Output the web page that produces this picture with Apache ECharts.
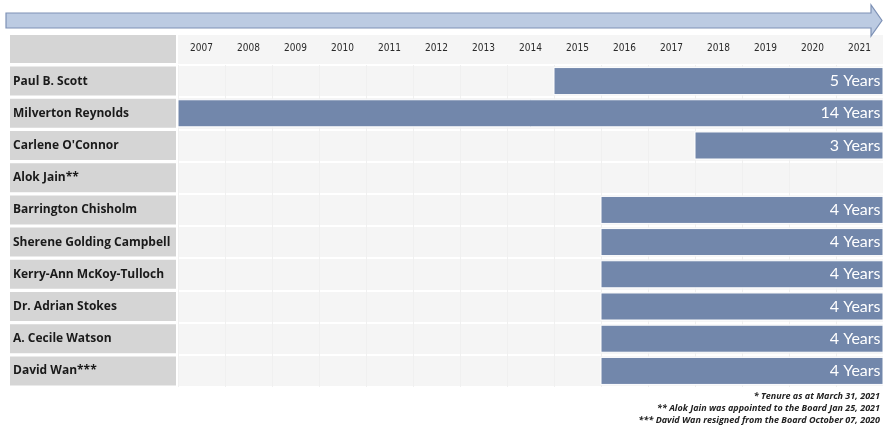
<!DOCTYPE html>
<html>
<head>
<meta charset="utf-8">
<script src="https://cdn.jsdelivr.net/npm/echarts@6/dist/echarts.min.js"></script>
<style>
  html, body { margin: 0; padding: 0; background: #fff; }
  #chart { width: 883px; height: 431px; }
</style>
</head>
<body>
<div id="chart"></div>
<script>
// board members, top to bottom
const names = [
  'Paul B. Scott', 'Milverton Reynolds', "Carlene O'Connor", 'Alok Jain**',
  'Barrington Chisholm', 'Sherene Golding Campbell', 'Kerry-Ann McKoy-Tulloch',
  'Dr. Adrian Stokes', 'A. Cecile Watson', 'David Wan***'
]
// bar starts at the beginning of this year column, ends at the end of 2021
const startYear = [2015, 2007, 2018, null, 2016, 2016, 2016, 2016, 2016, 2016]
const endYear = [2022, 2022, 2022, null, 2022, 2022, 2022, 2022, 2022, 2022]
const tenureYears = [5, 14, 3, null, 4, 4, 4, 4, 4, 4]
const yearLabels = ['2007', '2008', '2009', '2010', '2011', '2012', '2013', '2014',
  '2015', '2016', '2017', '2018', '2019', '2020', '2021']
const footnotes = [
  '* Tenure as at March 31, 2021',
  '** Alok Jain was appointed to the Board Jan 25, 2021',
  '*** David Wan resigned from the Board October 07, 2020'
]

const barColor = '#7287ab'

const barData = names.map((n, i) => [i, startYear[i], endYear[i], tenureYears[i]])
  .filter(d => d[1] != null)

const chart = echarts.init(document.getElementById('chart'))

chart.setOption({
  animation: false,
  textStyle: { fontFamily: 'Lato' },
  grid: {
    left: 178, right: 0, top: 65, bottom: 44,
    show: true, backgroundColor: '#f5f5f5', borderWidth: 0
  },
  xAxis: [
    {
      // value scale for the bars
      type: 'value', min: 2007, max: 2022, interval: 1,
      axisLine: { show: false }, axisTick: { show: false },
      axisLabel: { show: false }, splitLine: { show: false }
    },
    {
      // year columns for labels
      type: 'category', position: 'top', data: yearLabels, boundaryGap: true,
      axisLine: { show: false }, axisTick: { show: false },
      axisLabel: { color: '#2a2a2a', fontSize: 10, fontFamily: 'DejaVu Sans Condensed', margin: 12 },
      splitLine: { show: true, lineStyle: { color: '#f0f0f0', width: 1 } }
    }
  ],
  yAxis: {
    type: 'category', data: names, inverse: true,
    axisLine: { show: false }, axisTick: { show: false },
    splitLine: { show: true, lineStyle: { color: '#ffffff', width: 2 } },
    axisLabel: {
      align: 'left', margin: 168, width: 163, height: 29, padding: [0, 0, 0, 3],
      lineHeight: 29, backgroundColor: '#d5d5d5', color: '#1a1a1a',
      fontWeight: 'bold', fontSize: 12, fontFamily: 'Open Sans', overflow: 'truncate'
    }
  },
  series: [{
    type: 'custom',
    xAxisIndex: 0,
    data: barData,
    encode: { x: [1, 2], y: 0 },
    renderItem: (params, api) => {
      const a = api.coord([api.value(1), api.value(0)])
      const b = api.coord([api.value(2), api.value(0)])
      const h = api.size([0, 1])[1] * 0.84
      const yrs = api.value(3)
      return {
        type: 'rect',
        shape: { x: a[0], y: a[1] - h / 2, width: b[0] - a[0], height: h },
        style: {
          fill: barColor, stroke: '#ffffff', lineWidth: 1,
          text: yrs + ' Years',
          textPosition: 'insideRight', textDistance: 3,
          textFill: '#ffffff', fontSize: 16, fontFamily: 'Lato'
        }
      }
    }
  }],
  graphic: [
    // header label cell and header strip
    { type: 'rect', z: -1, shape: { x: 10, y: 35, width: 166, height: 28 }, style: { fill: '#d5d5d5' } },
    { type: 'rect', z: -1, shape: { x: 178, y: 35, width: 705, height: 29 }, style: { fill: '#f5f5f5' } },
    // timeline arrow
    {
      type: 'polygon', z: 5,
      shape: { points: [[6, 13], [871, 13], [871, 5], [882, 20.5], [871, 36], [871, 28], [6, 28]] },
      style: { fill: '#bccbe2', stroke: '#7e92b6', lineWidth: 1.2 }
    },
    ...footnotes.map((t, i) => ({
      type: 'text', right: 3, top: 392 + i * 12,
      style: { text: t, fill: '#222', font: 'italic bold 9px "Open Sans"', textAlign: 'right' }
    }))
  ]
})
</script>
</body>
</html>
